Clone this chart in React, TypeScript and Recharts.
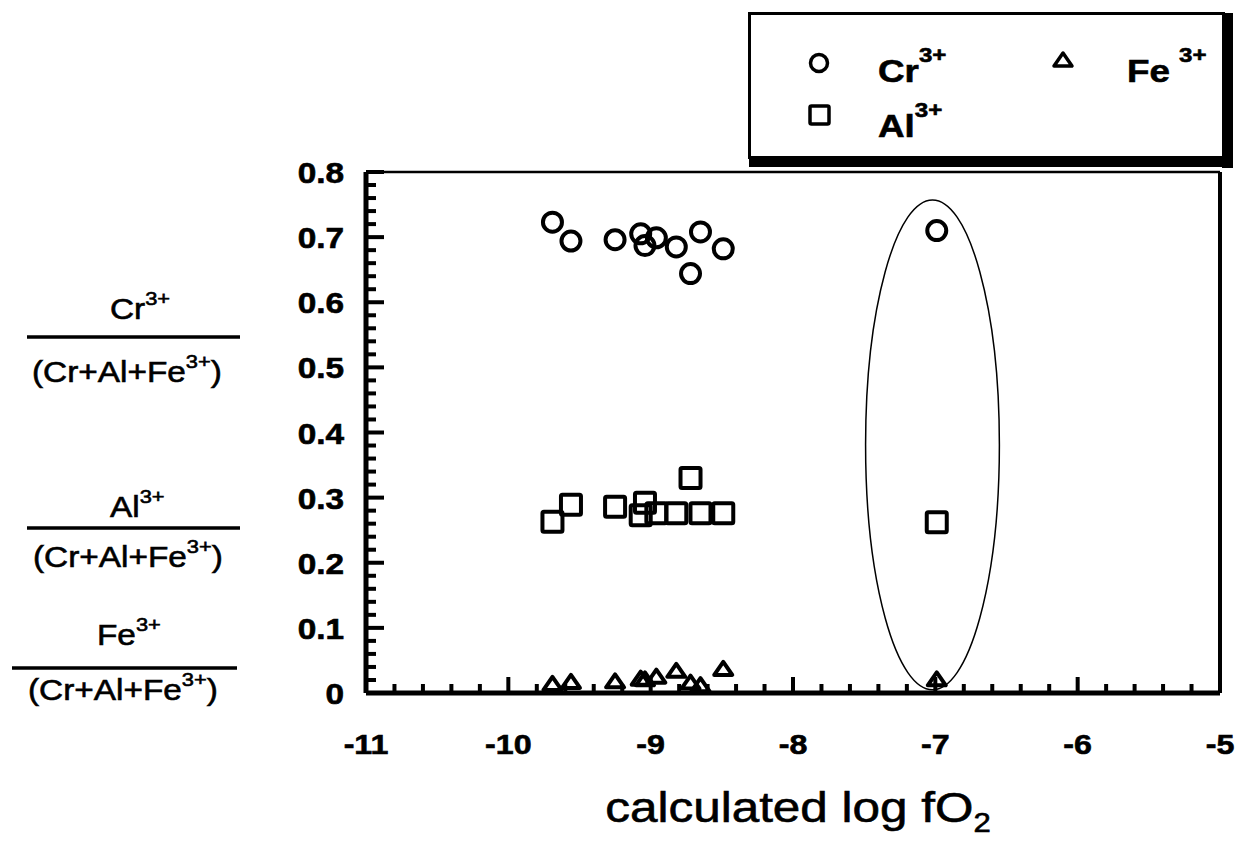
import React from "react";
import {
  ScatterChart,
  Scatter,
  XAxis,
  YAxis,
  ReferenceLine,
  Legend,
  Label,
} from "recharts";

// calculated log fO2 for each sample
const logFO2 = [-9.69, -9.56, -9.25, -9.07, -9.04, -8.96, -8.82, -8.72, -8.65, -8.49, -6.99];

// cation fractions of the spinel for the same samples
const crFraction = [0.723, 0.694, 0.696, 0.705, 0.687, 0.699, 0.685, 0.644, 0.708, 0.682, 0.71];
const alFraction = [0.263, 0.289, 0.286, 0.273, 0.292, 0.276, 0.276, 0.33, 0.276, 0.276, 0.262];
const feFraction = [0.014, 0.017, 0.018, 0.022, 0.021, 0.025, 0.034, 0.016, 0.012, 0.037, 0.021];

// the sample that is ringed
const ringCenter = [{ x: -7.02, y: 0.381 }];
const RING_HALF_X = 0.47;
const RING_HALF_Y = 0.376;

// axes
const xMajorTicks = [-11, -10, -9, -8, -7, -6, -5];
const yMajorTicks = [0, 0.1, 0.2, 0.3, 0.4, 0.5, 0.6, 0.7, 0.8];
const X_DOMAIN: [number, number] = [-11, -5];
const Y_DOMAIN: [number, number] = [0, 0.8];

// five minor steps between two majors
const withMinor = (majors: number[]) =>
  majors
    .slice(0, -1)
    .flatMap((t, i) => {
      const step = (majors[i + 1] - t) / 5;
      return [0, 1, 2, 3, 4].map((k) => +(t + k * step).toFixed(3));
    })
    .concat(majors[majors.length - 1]);

const xTicks = withMinor(xMajorTicks);
const yTicks = withMinor(yMajorTicks);

// layout
const CHART_W = 1238;
const CHART_H = 846;
const PLOT_LEFT = 366;
const PLOT_TOP = 172;
const PLOT_RIGHT = 1220;
const PLOT_BOTTOM = 693;
const Y_AXIS_W = 80;
const X_AXIS_H = 80;
const PX_PER_X = (PLOT_RIGHT - PLOT_LEFT) / (X_DOMAIN[1] - X_DOMAIN[0]);
const PX_PER_Y = (PLOT_BOTTOM - PLOT_TOP) / (Y_DOMAIN[1] - Y_DOMAIN[0]);

const FONT = '"Liberation Sans", Arial, Helvetica, sans-serif';
const STRETCH = 1.15;

const crPoints = logFO2.map((x, i) => ({ x, y: crFraction[i] }));
const alPoints = logFO2.map((x, i) => ({ x, y: alFraction[i] }));
const fePoints = logFO2.map((x, i) => ({ x, y: feFraction[i] }));

const isMajor = (list: number[], v: number) => list.some((t) => Math.abs(t - v) < 1e-6);

// text is a little wide and heavy in this figure: stretch it and give it a thin outline
const SansText = ({ x, y, anchor = "start", size, weight = "normal", children }: any) => (
  <g transform={`translate(${x},${y}) scale(${STRETCH},1)`}>
    <text
      x={0}
      y={0}
      textAnchor={anchor}
      fontSize={size}
      fontWeight={weight}
      fontFamily={FONT}
      fill="#000"
      stroke="#000"
      strokeWidth={0.6}
    >
      {children}
    </text>
  </g>
);

// markers
const CircleMark = (p: any) => (
  <circle cx={p.cx} cy={p.cy} r={9.5} fill="none" stroke="#000" strokeWidth={4} />
);

const SquareMark = (p: any) => (
  <rect x={p.cx - 10} y={p.cy - 10} width={20} height={20} rx={1.5} fill="none" stroke="#000" strokeWidth={4} />
);

const TriangleMark = (p: any) => (
  <path
    d={`M${p.cx},${p.cy - 7} L${p.cx + 9},${p.cy + 6} L${p.cx - 9},${p.cy + 6} Z`}
    fill="none"
    stroke="#000"
    strokeWidth={4}
    strokeLinejoin="round"
  />
);

const RingMark = (p: any) => (
  <ellipse
    cx={p.cx}
    cy={p.cy}
    rx={RING_HALF_X * PX_PER_X}
    ry={RING_HALF_Y * PX_PER_Y}
    fill="none"
    stroke="#000"
    strokeWidth={1.5}
  />
);

// ticks point into the plot, labels only on majors
const XTick = (props: any) => {
  const { x, y, payload } = props;
  const major = isMajor(xMajorTicks, payload.value);
  return (
    <g>
      <line x1={x} x2={x} y1={y} y2={y - (major ? 16 : 9)} stroke="#000" strokeWidth={4} />
      {major && (
        <SansText x={x} y={y + 61} anchor="middle" size={28} weight="bold">
          {String(payload.value)}
        </SansText>
      )}
    </g>
  );
};

const YTick = (props: any) => {
  const { x, y, payload } = props;
  const major = isMajor(yMajorTicks, payload.value);
  return (
    <g>
      <line x1={x} x2={x + (major ? 18 : 10)} y1={y} y2={y} stroke="#000" strokeWidth={4} />
      {major && (
        <SansText x={x - 22} y={y + 11} anchor="end" size={29} weight="bold">
          {String(payload.value)}
        </SansText>
      )}
    </g>
  );
};

const Fraction = ({ num, numX, numY, lineX1, lineX2, lineY, denX, denY }: any) => (
  <g>
    <SansText x={numX} y={numY} size={29}>
      {num}
      <tspan dy={-14} fontSize={19}>3+</tspan>
    </SansText>
    <line x1={lineX1} x2={lineX2} y1={lineY} y2={lineY} stroke="#000" strokeWidth={3.5} />
    <SansText x={denX} y={denY} size={29}>
      (Cr+Al+Fe
      <tspan dy={-14} fontSize={19}>3+</tspan>
      <tspan dy={14}>)</tspan>
    </SansText>
  </g>
);

const YAxisFractions = () => (
  <g>
    <Fraction num="Cr" numX={110} numY={319} lineX1={27} lineX2={240} lineY={337} denX={32} denY={382} />
    <Fraction num="Al" numX={110} numY={517} lineX1={27} lineX2={240} lineY={528} denX={33} denY={567} />
    <Fraction num="Fe" numX={97} numY={645} lineX1={12} lineX2={237} lineY={668} denX={28} denY={700} />
  </g>
);

const XAxisTitle = () => (
  <SansText x={798} y={822} anchor="middle" size={43}>
    calculated log fO
    <tspan dy={10} fontSize={27}>2</tspan>
  </SansText>
);

const LegendBox = () => (
  <svg width={486} height={156} style={{ display: "block" }}>
    <rect x={0} y={0} width={486} height={156} fill="#fff" />
    <rect x={1.5} y={1.5} width={474} height={144} fill="none" stroke="#000" strokeWidth={3} />
    <rect x={474} y={1} width={11} height={155} fill="#000" />
    <rect x={1} y={145} width={484} height={10} fill="#000" />
    <circle cx={71} cy={51} r={8.5} fill="none" stroke="#000" strokeWidth={3.5} />
    <SansText x={130} y={70} size={32} weight="bold">
      Cr
      <tspan dy={-20} fontSize={21}>3+</tspan>
    </SansText>
    <path d="M315,41 L324,54 L306,54 Z" fill="none" stroke="#000" strokeWidth={3.5} strokeLinejoin="round" />
    <SansText x={379} y={70} size={32} weight="bold">
      Fe
      <tspan dx={8} dy={-20} fontSize={21}>3+</tspan>
    </SansText>
    <rect x={62} y={94} width={19} height={18} rx={1.5} fill="none" stroke="#000" strokeWidth={3.5} />
    <SansText x={130} y={125} size={32} weight="bold">
      Al
      <tspan dy={-20} fontSize={21}>3+</tspan>
    </SansText>
  </svg>
);

export default function App() {
  return (
    <div style={{ position: "absolute", left: 0, top: 0, width: CHART_W, height: CHART_H, background: "#fff" }}>
      <ScatterChart
        width={CHART_W}
        height={CHART_H}
        margin={{
          top: PLOT_TOP,
          right: CHART_W - PLOT_RIGHT,
          left: PLOT_LEFT - Y_AXIS_W,
          bottom: CHART_H - PLOT_BOTTOM - X_AXIS_H,
        }}
      >
        <XAxis
          type="number"
          dataKey="x"
          domain={X_DOMAIN}
          ticks={xTicks}
          interval={0}
          allowDataOverflow
          height={X_AXIS_H}
          tickLine={false}
          tickSize={0}
          tickMargin={0}
          axisLine={{ stroke: "#000", strokeWidth: 5 }}
          tick={(props: any) => <XTick {...props} />}
        >
          <Label content={() => <XAxisTitle />} />
        </XAxis>
        <YAxis
          type="number"
          dataKey="y"
          domain={Y_DOMAIN}
          ticks={yTicks}
          interval={0}
          allowDataOverflow
          width={Y_AXIS_W}
          tickLine={false}
          tickSize={0}
          tickMargin={0}
          axisLine={{ stroke: "#000", strokeWidth: 5 }}
          tick={(props: any) => <YTick {...props} />}
        >
          <Label content={() => <YAxisFractions />} />
        </YAxis>
        <ReferenceLine y={0.8} stroke="#000" strokeWidth={2.5} />
        <ReferenceLine x={-5} stroke="#000" strokeWidth={4} />
        <Legend
          layout="horizontal"
          verticalAlign="middle"
          align="center"
          content={() => <LegendBox />}
          wrapperStyle={{ left: 748, top: 12, width: 486, height: 156 }}
        />
        <Scatter name="ring" data={ringCenter} shape={RingMark} isAnimationActive={false} legendType="none" />
        <Scatter name="Cr3+" data={crPoints} shape={CircleMark} isAnimationActive={false} />
        <Scatter name="Al3+" data={alPoints} shape={SquareMark} isAnimationActive={false} />
        <Scatter name="Fe3+" data={fePoints} shape={TriangleMark} isAnimationActive={false} />
      </ScatterChart>
    </div>
  );
}
